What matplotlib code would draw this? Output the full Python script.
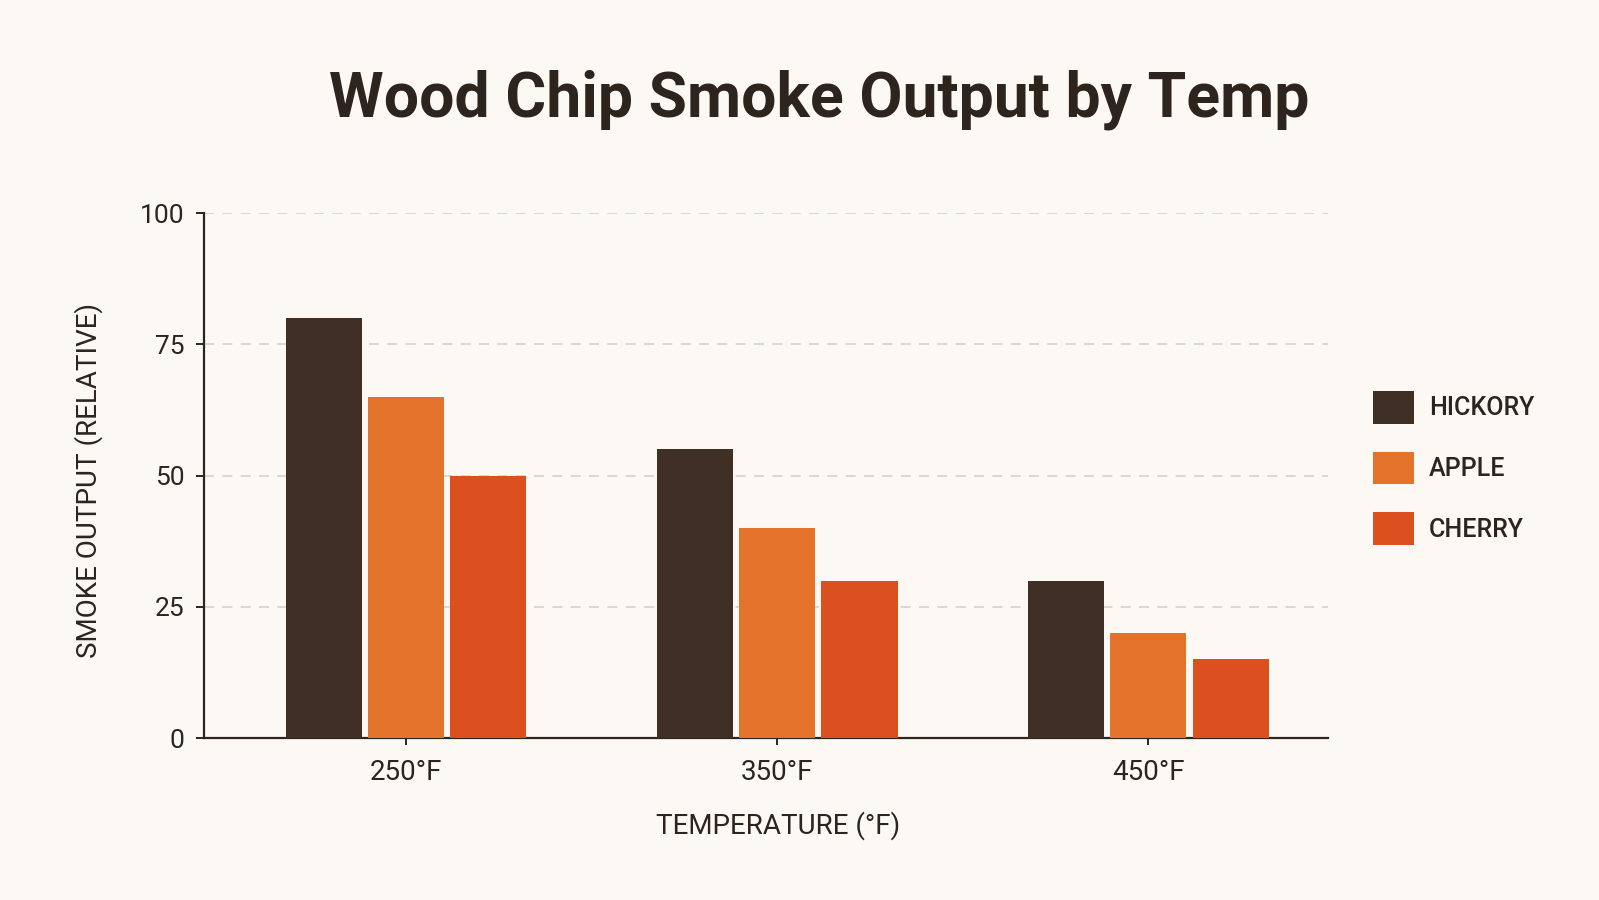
import numpy as np
import matplotlib
matplotlib.use('Agg')
import matplotlib.pyplot as plt
from matplotlib.patches import Patch

temps = ['250°F', '350°F', '450°F']
woods = ['HICKORY', 'APPLE', 'CHERRY']
hickory = [80, 55, 30]
apple = [65, 40, 20]
cherry = [50, 30, 15]
yticks = [0, 25, 50, 75, 100]

colors = ['#3f2f24', '#e3732b', '#dc501f']
bg = '#fcf9f4'
ink = '#2d241e'

plt.rcParams['font.family'] = ['Roboto', 'DejaVu Sans']

fig = plt.figure(figsize=(15.99, 9.0), dpi=100, facecolor=bg)
ax = fig.add_axes([0.1276, 0.18, 0.7029, 0.5833])
ax.set_facecolor(bg)

x = np.arange(len(temps))
w = 0.205
step = 0.222
for i, (vals, c) in enumerate(zip([hickory, apple, cherry], colors)):
    ax.bar(x + (i - 1) * step, vals, width=w, color=c, zorder=3)

ax.set_xlim(-0.544, 2.484)
ax.set_ylim(0, 100)
ax.set_yticks(yticks)
ax.set_xticks(x)
ax.set_xticklabels(temps)
for v in yticks[1:]:
    ax.axhline(v, color='#d6d1c9', lw=1.2, ls=(0, (6, 5)), zorder=1)

for s in ['top', 'right']:
    ax.spines[s].set_visible(False)
for s in ['left', 'bottom']:
    ax.spines[s].set_color(ink)
    ax.spines[s].set_linewidth(1.6)
ax.tick_params(axis='y', length=6, width=1.4, color=ink, pad=8, labelsize=19, labelcolor=ink)
ax.tick_params(axis='x', length=5, width=1.4, color=ink, pad=10, labelsize=20, labelcolor=ink)

ax.set_xlabel('TEMPERATURE (°F)', fontsize=20, color=ink)
ax.xaxis.set_label_coords(0.511, -0.14)
ax.set_ylabel('SMOKE OUTPUT (RELATIVE)', fontsize=20, color=ink)
ax.yaxis.set_label_coords(-0.09, 0.49)

fig.text(0.512, 1 - 116 / 900, 'Wood Chip Smoke Output by Temp', ha='center', va='baseline',
         fontsize=45, fontweight='bold', color=ink,
         family=['Liberation Sans Narrow', 'Roboto', 'DejaVu Sans'])

handles = [Patch(facecolor=c, edgecolor='none') for c in colors]
leg = fig.legend(handles, woods, loc='center left', bbox_to_anchor=(0.8585, 0.48),
                 frameon=False, handlelength=1.65, handleheight=1.65, handletextpad=0.6,
                 labelspacing=1.12, borderpad=0, borderaxespad=0,
                 prop={'size': 18, 'weight': 'medium'})
for t in leg.get_texts():
    t.set_color(ink)

fig.savefig('out.png', dpi=100, facecolor=bg)
